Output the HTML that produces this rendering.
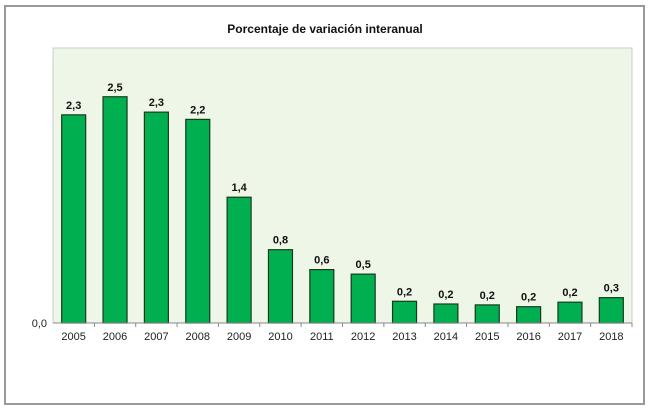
<!DOCTYPE html>
<html><head><meta charset="utf-8"><style>
body{margin:0;background:#fff;}
svg{display:block;font-family:"Liberation Sans",Arial,sans-serif;}
</style></head><body>
<svg width="650" height="410">
<rect x="5" y="6" width="639" height="398" fill="#fff" stroke="#999" stroke-width="2"/>
<text x="325" y="33" text-anchor="middle" font-size="12" font-weight="bold" fill="#111">Porcentaje de variación interanual</text>
<rect x="53" y="48" width="579" height="275" fill="#eef6e8" stroke="#ccc" stroke-width="1"/>
<g id="bars"></g>
<line x1="53" y1="323" x2="632" y2="323" stroke="#888" stroke-width="1"/>
<text x="47" y="327" text-anchor="end" font-size="11" fill="#222">0,0</text>
</svg>
<script>
const categories=["2005","2006","2007","2008","2009","2010","2011","2012","2013","2014","2015","2016","2017","2018"];
const values=[2.30,2.50,2.33,2.25,1.39,0.81,0.59,0.54,0.24,0.21,0.20,0.18,0.23,0.28];
const labels=["2,3","2,5","2,3","2,2","1,4","0,8","0,6","0,5","0,2","0,2","0,2","0,2","0,2","0,3"];
const NS="http://www.w3.org/2000/svg";
const x0=53,x1=632,base=323,scale=90.5;
const step=(x1-x0)/categories.length;
const xS=i=>x0+step*i+step/2;
const yS=v=>base-v*scale;
const g=document.getElementById('bars');
categories.forEach((c,i)=>{
  const cx=xS(i),y=yS(values[i]);
  const r=document.createElementNS(NS,'rect');
  r.setAttribute('x',cx-12);r.setAttribute('y',y);r.setAttribute('width',24);r.setAttribute('height',base-y);
  r.setAttribute('fill','#00b050');r.setAttribute('stroke','#1a3a1a');r.setAttribute('stroke-width','1.2');
  
  
  g.appendChild(r);
  const t=document.createElementNS(NS,'text');
  t.setAttribute('x',cx);t.setAttribute('y',y-6);t.setAttribute('text-anchor','middle');
  t.setAttribute('font-size','11');t.setAttribute('font-weight','bold');t.setAttribute('fill','#111');
  t.textContent=labels[i];
  
  
  g.appendChild(t);
  const k=document.createElementNS(NS,'text');
  k.setAttribute('x',cx);k.setAttribute('y',340);k.setAttribute('text-anchor','middle');
  k.setAttribute('font-size','11');k.setAttribute('fill','#222');
  k.textContent=c;
  
  
  g.appendChild(k);
  const tk=document.createElementNS(NS,'line');
  const tx=x0+step*(i+1);
  tk.setAttribute('x1',tx);tk.setAttribute('x2',tx);tk.setAttribute('y1',base);tk.setAttribute('y2',base+4);
  tk.setAttribute('stroke','#888');
  
  
  g.appendChild(tk);
});
</script>
</body></html>
